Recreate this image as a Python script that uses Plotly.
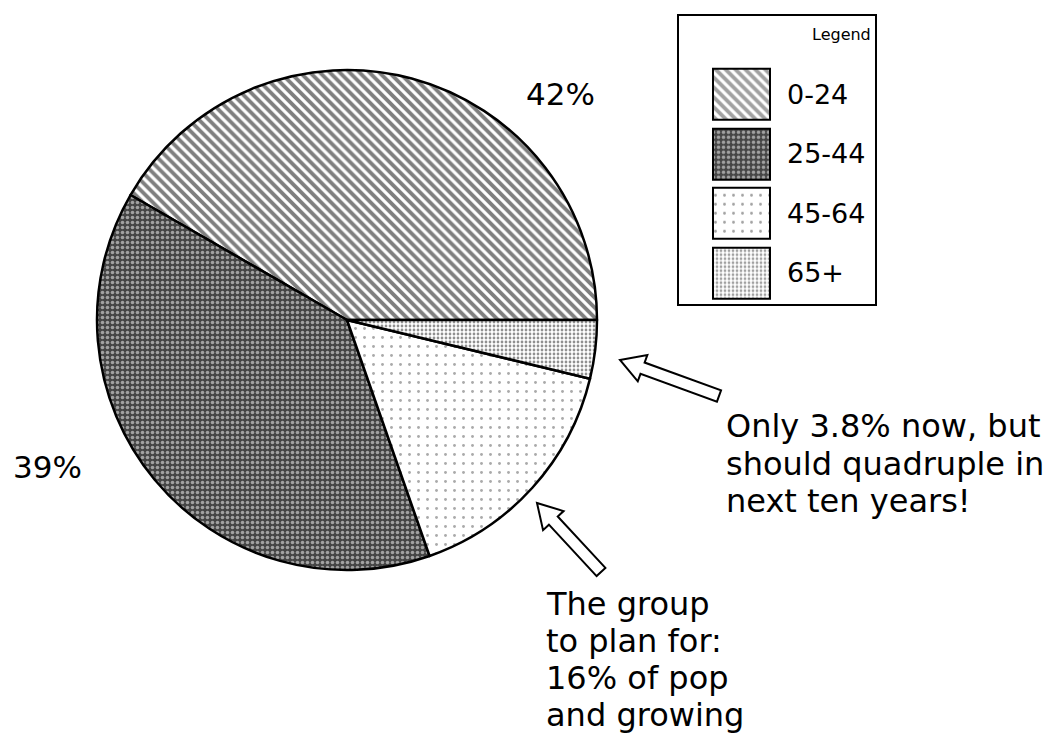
import math
import plotly.graph_objects as go

W, H = 1053, 739

# ---- data ----
age_groups = ["0-24", "25-44", "45-64", "65+"]
shares = [42, 39, 16, 3.8]
pct_labels = {"0-24": "42%", "25-44": "39%"}
callout_65 = ["Only 3.8% now, but", "should quadruple in", "next ten years!"]
callout_45 = ["The group", "to plan for:", "16% of pop", "and growing"]

# ---- styles ----
fill_bg = ["white", "#454545", "white", "white"]
pat_shape = ["\\", ".", ".", "."]
pat_size = [7, 5, 9, 4]
pat_solid = [0.55, 0.4, 0.08, 0.38]
pat_fg = ["#000000", "#ffffff", "#555555", "#222222"]
FONT = "DejaVu Sans"


def px(x):
    return x / W


def py(y):
    return 1 - y / H


def hollow_arrow(tip, tail, hl=24, hw=14, sw=6):
    tx, ty = tip
    ex, ey = tail
    dx, dy = tx - ex, ty - ey
    d = math.hypot(dx, dy)
    ux, uy = dx / d, dy / d
    nx, ny = -uy, ux
    bx, by = tx - ux * hl, ty - uy * hl
    pts = [
        (tx, ty),
        (bx + nx * hw, by + ny * hw),
        (bx + nx * sw, by + ny * sw),
        (ex + nx * sw, ey + ny * sw),
        (ex - nx * sw, ey - ny * sw),
        (bx - nx * sw, by - ny * sw),
        (bx - nx * hw, by - ny * hw),
    ]
    path = "M " + " L ".join(f"{px(x):.5f},{py(y):.5f}" for x, y in pts) + " Z"
    return dict(type="path", xref="paper", yref="paper", path=path,
                line=dict(color="black", width=2), fillcolor="white", layer="above")


# first slice (0-24) should begin at 3 o'clock and run counterclockwise;
# plotly anchors the end of the first counterclockwise slice at `rotation`
first_span = shares[0] / sum(shares) * 360
rotation = 90 - first_span

fig = go.Figure()

fig.add_trace(go.Pie(
    labels=age_groups,
    values=shares,
    sort=False,
    direction="counterclockwise",
    rotation=rotation,
    textinfo="none",
    hoverinfo="skip",
    showlegend=False,
    domain=dict(x=[px(97), px(597)], y=[py(570), py(70)]),
    marker=dict(
        colors=fill_bg,
        line=dict(color="black", width=2.5),
        pattern=dict(shape=pat_shape, size=pat_size, solidity=pat_solid,
                     fgcolor=pat_fg, fillmode="overlay"),
    ),
))

# legend swatches as patterned bars
fig.add_trace(go.Bar(
    y=age_groups,
    x=[1] * len(age_groups),
    orientation="h",
    width=0.857,
    hoverinfo="skip",
    showlegend=False,
    marker=dict(
        color=fill_bg,
        line=dict(color="black", width=2),
        pattern=dict(shape=pat_shape, size=pat_size, solidity=pat_solid,
                     fgcolor=pat_fg, fillmode="overlay"),
    ),
))

annotations = []
annotations.append(dict(text=pct_labels["0-24"], x=px(560), y=py(94), xref="paper", yref="paper",
                        showarrow=False, font=dict(size=31, family=FONT, color="black"),
                        xanchor="center", yanchor="middle"))
annotations.append(dict(text=pct_labels["25-44"], x=px(47), y=py(467), xref="paper", yref="paper",
                        showarrow=False, font=dict(size=31, family=FONT, color="black"),
                        xanchor="center", yanchor="middle"))
for i, line in enumerate(callout_65):
    annotations.append(dict(text=line, x=px(724), y=py(426 + 37.5 * i), xref="paper", yref="paper",
                            showarrow=False, font=dict(size=32, family=FONT, color="black"),
                            xanchor="left", yanchor="middle"))
for i, line in enumerate(callout_45):
    annotations.append(dict(text=line, x=px(544), y=py(604 + 37 * i), xref="paper", yref="paper",
                            showarrow=False, font=dict(size=32, family=FONT, color="black"),
                            xanchor="left", yanchor="middle"))
annotations.append(dict(text="Legend", x=px(841), y=py(35), xref="paper", yref="paper",
                        showarrow=False, font=dict(size=16, family=FONT, color="black"),
                        xanchor="center", yanchor="middle"))

shapes = [
    dict(type="rect", xref="paper", yref="paper", x0=px(678), x1=px(876), y0=py(305), y1=py(15),
         line=dict(color="black", width=2), fillcolor="rgba(0,0,0,0)", layer="below"),
    hollow_arrow((620, 360), (719, 396)),
    hollow_arrow((537, 503), (601, 572)),
]

fig.update_layout(
    width=W, height=H,
    margin=dict(l=0, r=0, t=0, b=0),
    paper_bgcolor="white", plot_bgcolor="white",
    font=dict(family=FONT, color="black"),
    annotations=annotations,
    shapes=shapes,
    bargap=0,
    xaxis=dict(domain=[px(711), px(772)], range=[-0.035, 1.035], visible=False, fixedrange=True),
    yaxis=dict(domain=[py(302.75), py(64.75)], type="category", categoryorder="array",
               categoryarray=age_groups, autorange="reversed", side="right",
               showgrid=False, zeroline=False, showline=False, ticks="",
               ticklabelstandoff=14, tickfont=dict(size=27, family=FONT, color="black"),
               fixedrange=True),
)

fig.write_html("out.html", config={"displayModeBar": False},
               post_script="document.body.style.margin='0';document.body.style.overflow='hidden';")
